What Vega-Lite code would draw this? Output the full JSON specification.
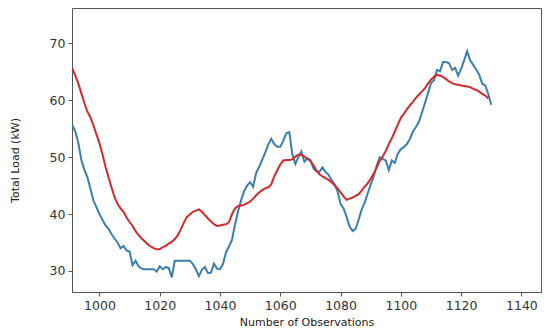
{
  "$schema": "https://vega.github.io/schema/vega-lite/v6.json",
  "width": 469,
  "height": 284,
  "autosize": {"type": "none"},
  "padding": {"left": 72, "top": 8, "right": 9, "bottom": 41},
  "config": {
    "view": {"stroke": "#555555", "strokeWidth": 1},
    "font": "DejaVu Sans",
    "axis": {
      "grid": false,
      "domainColor": "#555555",
      "tickColor": "#555555",
      "tickSize": 4,
      "labelColor": "#333333",
      "labelFont": "DejaVu Sans",
      "labelFontSize": 12.5,
      "titleFont": "DejaVu Sans",
      "titleFontSize": 11,
      "titleFontWeight": "normal",
      "titleColor": "#222222"
    }
  },
  "datasets": {
    "actual": [
      {"x":991,"y":55.6},{"x":992,"y":54.5},{"x":993,"y":52.5},{"x":994,"y":49.5},{"x":995,"y":47.8},{"x":996,"y":46.5},{"x":997,"y":44.5},{"x":998,"y":42.4},{"x":999,"y":41.2},{"x":1000,"y":40.0},
      {"x":1001,"y":39.0},{"x":1002,"y":38.0},{"x":1003,"y":37.4},{"x":1004,"y":36.5},{"x":1005,"y":35.7},{"x":1006,"y":35.0},{"x":1007,"y":34.0},{"x":1008,"y":34.4},{"x":1009,"y":33.6},{"x":1010,"y":33.4},
      {"x":1011,"y":31.0},{"x":1012,"y":31.8},{"x":1013,"y":30.8},{"x":1014,"y":30.4},{"x":1015,"y":30.3},{"x":1016,"y":30.3},{"x":1017,"y":30.3},{"x":1018,"y":30.3},{"x":1019,"y":29.9},{"x":1020,"y":30.8},
      {"x":1021,"y":30.3},{"x":1022,"y":30.7},{"x":1023,"y":30.5},{"x":1024,"y":28.9},{"x":1025,"y":31.8},{"x":1026,"y":31.8},{"x":1027,"y":31.8},{"x":1028,"y":31.8},{"x":1029,"y":31.8},{"x":1030,"y":31.8},
      {"x":1031,"y":31.2},{"x":1032,"y":30.3},{"x":1033,"y":29.1},{"x":1034,"y":30.2},{"x":1035,"y":30.7},{"x":1036,"y":29.6},{"x":1037,"y":29.7},{"x":1038,"y":31.3},{"x":1039,"y":30.4},{"x":1040,"y":30.3},
      {"x":1041,"y":31.2},{"x":1042,"y":33.3},{"x":1043,"y":34.3},{"x":1044,"y":35.5},{"x":1045,"y":38.2},{"x":1046,"y":40.5},{"x":1047,"y":42.4},{"x":1048,"y":44.0},{"x":1049,"y":45.0},{"x":1050,"y":45.6},
      {"x":1051,"y":44.8},{"x":1052,"y":47.2},{"x":1053,"y":48.3},{"x":1054,"y":49.5},{"x":1055,"y":50.8},{"x":1056,"y":52.2},{"x":1057,"y":53.2},{"x":1058,"y":52.3},{"x":1059,"y":51.8},{"x":1060,"y":51.8},
      {"x":1061,"y":52.9},{"x":1062,"y":54.2},{"x":1063,"y":54.4},{"x":1064,"y":50.5},{"x":1065,"y":48.8},{"x":1066,"y":50.0},{"x":1067,"y":51.0},{"x":1068,"y":49.2},{"x":1069,"y":49.8},{"x":1070,"y":49.5},
      {"x":1071,"y":48.0},{"x":1072,"y":47.5},{"x":1073,"y":47.4},{"x":1074,"y":48.2},{"x":1075,"y":47.4},{"x":1076,"y":46.9},{"x":1077,"y":46.0},{"x":1078,"y":45.2},{"x":1079,"y":44.0},{"x":1080,"y":41.8},
      {"x":1081,"y":41.0},{"x":1082,"y":39.5},{"x":1083,"y":37.8},{"x":1084,"y":37.0},{"x":1085,"y":37.4},{"x":1086,"y":39.0},{"x":1087,"y":40.8},{"x":1088,"y":42.0},{"x":1089,"y":43.6},{"x":1090,"y":45.2},
      {"x":1091,"y":46.6},{"x":1092,"y":48.5},{"x":1093,"y":50.0},{"x":1094,"y":49.7},{"x":1095,"y":49.4},{"x":1096,"y":47.7},{"x":1097,"y":49.4},{"x":1098,"y":49.0},{"x":1099,"y":50.6},{"x":1100,"y":51.4},
      {"x":1101,"y":51.8},{"x":1102,"y":52.3},{"x":1103,"y":53.2},{"x":1104,"y":54.5},{"x":1105,"y":55.3},{"x":1106,"y":56.2},{"x":1107,"y":57.8},{"x":1108,"y":59.5},{"x":1109,"y":61.2},{"x":1110,"y":63.0},
      {"x":1111,"y":63.5},{"x":1112,"y":65.3},{"x":1113,"y":65.1},{"x":1114,"y":66.7},{"x":1115,"y":66.7},{"x":1116,"y":66.5},{"x":1117,"y":65.3},{"x":1118,"y":65.7},{"x":1119,"y":64.3},{"x":1120,"y":65.5},
      {"x":1121,"y":67.0},{"x":1122,"y":68.6},{"x":1123,"y":67.0},{"x":1124,"y":66.2},{"x":1125,"y":65.4},{"x":1126,"y":64.5},{"x":1127,"y":62.9},{"x":1128,"y":62.6},{"x":1129,"y":61.1},{"x":1130,"y":59.2}
    ],
    "predicted": [
      {"x":991,"y":65.6},{"x":992,"y":64.3},{"x":993,"y":62.9},{"x":994,"y":61.2},{"x":995,"y":59.5},{"x":996,"y":58.0},{"x":997,"y":57.0},{"x":998,"y":55.6},{"x":999,"y":54.0},{"x":1000,"y":52.5},
      {"x":1001,"y":50.5},{"x":1002,"y":48.3},{"x":1003,"y":46.5},{"x":1004,"y":44.7},{"x":1005,"y":43.0},{"x":1006,"y":41.8},{"x":1007,"y":41.0},{"x":1008,"y":40.4},{"x":1009,"y":39.4},{"x":1010,"y":38.6},
      {"x":1011,"y":37.9},{"x":1012,"y":37.0},{"x":1013,"y":36.3},{"x":1014,"y":35.7},{"x":1015,"y":35.2},{"x":1016,"y":34.7},{"x":1017,"y":34.3},{"x":1018,"y":34.0},{"x":1019,"y":33.8},{"x":1020,"y":33.8},
      {"x":1021,"y":34.2},{"x":1022,"y":34.4},{"x":1023,"y":34.8},{"x":1024,"y":35.1},{"x":1025,"y":35.6},{"x":1026,"y":36.3},{"x":1027,"y":37.3},{"x":1028,"y":38.5},{"x":1029,"y":39.5},{"x":1030,"y":39.9},
      {"x":1031,"y":40.4},{"x":1032,"y":40.6},{"x":1033,"y":40.8},{"x":1034,"y":40.4},{"x":1035,"y":39.8},{"x":1036,"y":39.2},{"x":1037,"y":38.7},{"x":1038,"y":38.2},{"x":1039,"y":37.9},{"x":1040,"y":38.0},
      {"x":1041,"y":38.1},{"x":1042,"y":38.2},{"x":1043,"y":38.6},{"x":1044,"y":40.0},{"x":1045,"y":41.0},{"x":1046,"y":41.4},{"x":1047,"y":41.5},{"x":1048,"y":41.6},{"x":1049,"y":41.9},{"x":1050,"y":42.2},
      {"x":1051,"y":42.7},{"x":1052,"y":43.3},{"x":1053,"y":43.8},{"x":1054,"y":44.2},{"x":1055,"y":44.5},{"x":1056,"y":44.7},{"x":1057,"y":45.2},{"x":1058,"y":46.6},{"x":1059,"y":47.7},{"x":1060,"y":48.7},
      {"x":1061,"y":49.4},{"x":1062,"y":49.5},{"x":1063,"y":49.5},{"x":1064,"y":49.6},{"x":1065,"y":50.1},{"x":1066,"y":50.4},{"x":1067,"y":50.4},{"x":1068,"y":50.1},{"x":1069,"y":49.7},{"x":1070,"y":49.3},
      {"x":1071,"y":48.6},{"x":1072,"y":47.6},{"x":1073,"y":47.0},{"x":1074,"y":46.6},{"x":1075,"y":46.3},{"x":1076,"y":46.0},{"x":1077,"y":45.6},{"x":1078,"y":45.1},{"x":1079,"y":44.5},{"x":1080,"y":43.8},
      {"x":1081,"y":43.1},{"x":1082,"y":42.5},{"x":1083,"y":42.7},{"x":1084,"y":42.9},{"x":1085,"y":43.2},{"x":1086,"y":43.5},{"x":1087,"y":44.1},{"x":1088,"y":44.8},{"x":1089,"y":45.4},{"x":1090,"y":46.2},
      {"x":1091,"y":47.1},{"x":1092,"y":48.2},{"x":1093,"y":49.3},{"x":1094,"y":50.1},{"x":1095,"y":51.1},{"x":1096,"y":52.3},{"x":1097,"y":53.3},{"x":1098,"y":54.5},{"x":1099,"y":55.7},{"x":1100,"y":56.9},
      {"x":1101,"y":57.6},{"x":1102,"y":58.4},{"x":1103,"y":59.1},{"x":1104,"y":59.7},{"x":1105,"y":60.4},{"x":1106,"y":61.0},{"x":1107,"y":61.5},{"x":1108,"y":62.1},{"x":1109,"y":62.9},{"x":1110,"y":63.6},
      {"x":1111,"y":64.1},{"x":1112,"y":64.5},{"x":1113,"y":64.3},{"x":1114,"y":64.1},{"x":1115,"y":63.7},{"x":1116,"y":63.3},{"x":1117,"y":63.0},{"x":1118,"y":62.8},{"x":1119,"y":62.7},{"x":1120,"y":62.6},
      {"x":1121,"y":62.5},{"x":1122,"y":62.4},{"x":1123,"y":62.3},{"x":1124,"y":62.0},{"x":1125,"y":61.8},{"x":1126,"y":61.5},{"x":1127,"y":61.1},{"x":1128,"y":60.8},{"x":1129,"y":60.3}
    ]
  },
  "layer": [
    {
      "data": {"name": "actual"},
      "mark": {"type": "line", "color": "#3a7fad", "strokeWidth": 2, "clip": true},
      "encoding": {
        "x": {"field": "x", "type": "quantitative", "scale": {"domain": [990.9, 1146.5], "nice": false, "zero": false},
              "axis": {"values": [1000,1020,1040,1060,1080,1100,1120,1140], "format": "d", "title": "Number of Observations", "titleY": 30, "titleBaseline": "middle", "labelPadding": 3}},
        "y": {"field": "y", "type": "quantitative", "scale": {"domain": [26.3, 76.2], "nice": false, "zero": false},
              "axis": {"values": [30,40,50,60,70], "format": "d", "title": "Total Load (kW)", "titleX": -57, "titleY": 152, "titleBaseline": "middle", "titleAngle": -90, "labelPadding": 3}}
      }
    },
    {
      "data": {"name": "predicted"},
      "mark": {"type": "line", "color": "#d42a2b", "strokeWidth": 2, "clip": true},
      "encoding": {
        "x": {"field": "x", "type": "quantitative"},
        "y": {"field": "y", "type": "quantitative"}
      }
    }
  ]
}
